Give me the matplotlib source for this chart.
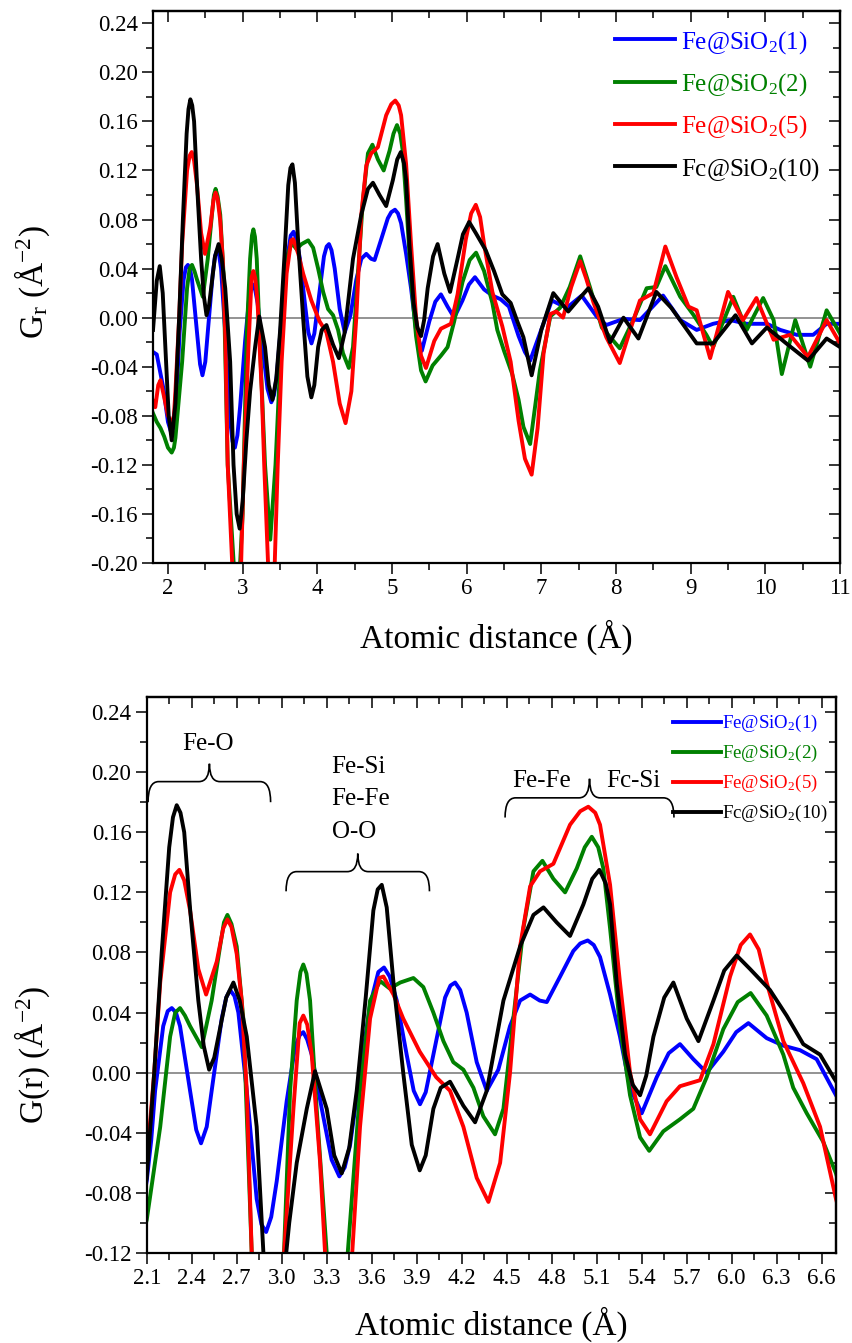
import matplotlib
matplotlib.use("Agg")
import matplotlib.pyplot as plt
from matplotlib.path import Path
from matplotlib.patches import PathPatch
from matplotlib.ticker import MultipleLocator, FuncFormatter, NullFormatter

plt.rcParams["font.family"] = ["Liberation Serif", "DejaVu Serif"]
plt.rcParams["mathtext.fontset"] = "custom"
plt.rcParams["mathtext.rm"] = "Liberation Serif"
plt.rcParams["mathtext.it"] = "Liberation Serif:italic"
plt.rcParams["mathtext.bf"] = "Liberation Serif:bold"

# ---- data ----
labels = ["Fe@SiO$_2$(1)", "Fe@SiO$_2$(2)", "Fe@SiO$_2$(5)", "Fc@SiO$_2$(10)"]
colors = ["#0000ff", "#008000", "#ff0000", "#000000"]

x_blue = [1.80, 1.85, 1.94, 2.00, 2.04, 2.07, 2.10, 2.13, 2.156, 2.21, 2.24, 2.267, 2.295, 2.322, 2.389,
          2.43, 2.462, 2.50, 2.533, 2.60, 2.63, 2.656, 2.685, 2.711, 2.767, 2.833, 2.865, 2.896, 2.93,
          2.967, 3.033, 3.089, 3.12, 3.144, 3.17, 3.20, 3.267, 3.333, 3.384, 3.42, 3.456, 3.522,
          3.589, 3.644, 3.682, 3.72, 3.767, 3.833, 3.88, 3.922, 3.96, 4.011, 4.089, 4.125, 4.156,
          4.19, 4.233, 4.30, 4.367, 4.444, 4.522, 4.589, 4.656, 4.72, 4.767, 4.856, 4.944, 4.99,
          5.04, 5.08, 5.122, 5.189, 5.255, 5.322, 5.40, 5.50, 5.58, 5.655, 5.744, 5.833, 5.944, 6.03,
          6.111, 6.233, 6.344, 6.455, 6.566, 6.695, 6.78, 6.85, 6.98, 7.14, 7.34, 7.54, 7.74, 7.87,
          8.10, 8.32, 8.63, 8.86, 9.08, 9.30, 9.53, 9.75, 10.02, 10.20, 10.42, 10.64, 10.82, 11.00]
y_blue = [-0.028, -0.030, -0.058, -0.085, -0.093, -0.090, -0.072, -0.045, -0.012, 0.031, 0.041, 0.043,
          0.040, 0.031, -0.012, -0.038, -0.047, -0.036, -0.012, 0.036, 0.050, 0.055, 0.051, 0.040,
          -0.012, -0.084, -0.101, -0.106, -0.096, -0.072, -0.019, 0.017, 0.025, 0.027, 0.022, 0.012,
          -0.024, -0.058, -0.069, -0.063, -0.048, 0.000, 0.045, 0.067, 0.070, 0.064, 0.048, 0.012,
          -0.012, -0.021, -0.013, 0.012, 0.050, 0.058, 0.060, 0.055, 0.040, 0.007, -0.012, 0.002,
          0.031, 0.048, 0.052, 0.048, 0.047, 0.064, 0.081, 0.086, 0.088, 0.085, 0.077, 0.052, 0.024,
          -0.010, -0.027, -0.003, 0.013, 0.019, 0.009, 0.000, 0.014, 0.027, 0.033, 0.023, 0.018,
          0.015, 0.009, -0.015, -0.028, -0.035, -0.013, 0.014, 0.008, 0.018, 0.001, -0.006, -0.001,
          -0.002, 0.018, -0.002, -0.010, -0.005, -0.002, -0.005, -0.005, -0.010, -0.014, -0.014,
          -0.005, -0.005]

x_green = [1.80, 1.85, 1.90, 1.95, 2.00, 2.05, 2.08, 2.10, 2.19, 2.256, 2.29, 2.322, 2.355, 2.389, 2.467,
           2.533, 2.589, 2.615, 2.638, 2.665, 2.70, 2.744, 2.80, 2.88, 2.95, 3.00, 3.056, 3.10, 3.125,
           3.144, 3.165, 3.189, 3.233, 3.30, 3.37, 3.44, 3.522, 3.589, 3.656, 3.72, 3.79, 3.878, 3.944,
           4.011, 4.078, 4.144, 4.211, 4.278, 4.344, 4.422, 4.478, 4.544, 4.611, 4.678, 4.738, 4.811,
           4.889, 4.967, 5.02, 5.067, 5.11, 5.144, 5.189, 5.255, 5.322, 5.389, 5.45, 5.544, 5.655,
           5.744, 5.833, 5.944, 6.04, 6.126, 6.233, 6.344, 6.41, 6.50, 6.61, 6.695, 6.76, 6.85, 6.98,
           7.12, 7.25, 7.38, 7.52, 7.65, 7.81, 8.05, 8.23, 8.41, 8.54, 8.66, 8.86, 9.04, 9.21, 9.30,
           9.39, 9.57, 9.75, 9.97, 10.11, 10.22, 10.40, 10.60, 10.82, 11.00]
y_green = [-0.078, -0.085, -0.090, -0.097, -0.106, -0.110, -0.106, -0.098, -0.036, 0.024, 0.040, 0.043,
           0.038, 0.031, 0.017, 0.048, 0.084, 0.100, 0.105, 0.099, 0.084, 0.036, -0.120, -0.200,
           -0.220, -0.160, -0.012, 0.048, 0.067, 0.072, 0.066, 0.048, -0.024, -0.120, -0.181, -0.120,
           -0.012, 0.048, 0.061, 0.056, 0.060, 0.063, 0.057, 0.040, 0.021, 0.007, 0.002, -0.010,
           -0.029, -0.041, -0.024, 0.036, 0.096, 0.134, 0.141, 0.129, 0.120, 0.136, 0.150, 0.157,
           0.150, 0.136, 0.096, 0.031, -0.015, -0.043, -0.052, -0.039, -0.031, -0.024, -0.003, 0.029,
           0.047, 0.053, 0.038, 0.012, -0.010, -0.027, -0.046, -0.067, -0.089, -0.103, -0.043, 0.001,
           0.008, 0.025, 0.050, 0.025, -0.008, -0.025, -0.002, 0.024, 0.025, 0.042, 0.017, 0.002,
           -0.014, -0.024, -0.010, 0.017, -0.010, 0.016, -0.002, -0.046, -0.002, -0.040, 0.006, -0.013]

x_red = [1.80, 1.83, 1.87, 1.90, 1.95, 2.00, 2.05, 2.08, 2.10, 2.15, 2.19, 2.256, 2.29, 2.318, 2.35,
         2.389, 2.444, 2.496, 2.567, 2.61, 2.638, 2.665, 2.70, 2.733, 2.767, 2.80, 2.86, 2.93, 2.98,
         3.016, 3.078, 3.12, 3.144, 3.17, 3.20, 3.256, 3.289, 3.34, 3.39, 3.43, 3.47, 3.522, 3.589,
         3.65, 3.678, 3.745, 3.81, 3.92, 4.03, 4.122, 4.211, 4.30, 4.378, 4.456, 4.522, 4.589, 4.656,
         4.722, 4.811, 4.922, 4.99, 5.044, 5.09, 5.122, 5.189, 5.255, 5.322, 5.389, 5.455, 5.566,
         5.655, 5.789, 5.878, 5.989, 6.06, 6.122, 6.18, 6.233, 6.344, 6.477, 6.589, 6.695, 6.78,
         6.87, 6.95, 7.03, 7.12, 7.20, 7.29, 7.40, 7.52, 7.60, 7.70, 7.87, 8.05, 8.19, 8.32, 8.50,
         8.66, 8.81, 8.97, 9.08, 9.26, 9.50, 9.70, 9.88, 10.11, 10.33, 10.57, 10.82, 11.00]
y_red = [-0.068, -0.073, -0.055, -0.051, -0.065, -0.080, -0.086, -0.080, -0.060, 0.000, 0.060, 0.120,
         0.132, 0.135, 0.128, 0.108, 0.069, 0.052, 0.074, 0.096, 0.102, 0.097, 0.079, 0.048, -0.012,
         -0.120, -0.200, -0.240, -0.200, -0.120, -0.024, 0.033, 0.038, 0.032, 0.012, -0.060, -0.120,
         -0.200, -0.235, -0.200, -0.120, -0.036, 0.036, 0.063, 0.064, 0.052, 0.036, 0.014, -0.003,
         -0.012, -0.036, -0.070, -0.086, -0.060, 0.000, 0.084, 0.124, 0.134, 0.139, 0.165, 0.174,
         0.177, 0.173, 0.165, 0.125, 0.060, 0.000, -0.031, -0.041, -0.019, -0.009, -0.005, 0.019,
         0.064, 0.085, 0.092, 0.082, 0.060, 0.021, -0.007, -0.036, -0.084, -0.115, -0.128, -0.090,
         -0.029, 0.003, 0.005, 0.000, 0.025, 0.046, 0.032, 0.012, -0.016, -0.037, -0.010, 0.014,
         0.020, 0.058, 0.033, 0.009, 0.006, -0.033, 0.021, -0.002, 0.016, -0.018, -0.014, -0.032,
         -0.002, -0.021]

x_black = [1.80, 1.85, 1.89, 1.93, 1.97, 2.01, 2.05, 2.10, 2.15, 2.20, 2.25, 2.275, 2.30, 2.325, 2.35,
           2.39, 2.444, 2.48, 2.516, 2.55, 2.58, 2.63, 2.678, 2.72, 2.767, 2.833, 2.878, 2.92, 2.96,
           3.00, 3.05, 3.10, 3.167, 3.222, 3.30, 3.35, 3.40, 3.45, 3.50, 3.56, 3.611, 3.64, 3.667,
           3.70, 3.745, 3.81, 3.867, 3.92, 3.96, 4.011, 4.06, 4.122, 4.211, 4.289, 4.367, 4.478,
           4.589, 4.678, 4.745, 4.833, 4.922, 5.011, 5.07, 5.118, 5.16, 5.189, 5.233, 5.289, 5.34,
           5.389, 5.43, 5.478, 5.55, 5.611, 5.70, 5.778, 5.878, 5.95, 6.033, 6.122, 6.255, 6.366,
           6.477, 6.589, 6.678, 6.76, 6.87, 7.00, 7.16, 7.36, 7.50, 7.63, 7.76, 7.92, 8.10, 8.30,
           8.54, 8.74, 9.08, 9.30, 9.60, 9.82, 10.02, 10.28, 10.57, 10.82, 11.00]
y_black = [-0.010, 0.030, 0.042, 0.020, -0.030, -0.080, -0.100, -0.070, 0.000, 0.080, 0.150, 0.170,
           0.178, 0.173, 0.160, 0.108, 0.048, 0.018, 0.002, 0.010, 0.025, 0.050, 0.060, 0.048, 0.024,
           -0.036, -0.120, -0.160, -0.172, -0.150, -0.100, -0.060, -0.024, 0.001, -0.024, -0.055,
           -0.067, -0.050, -0.012, 0.050, 0.108, 0.122, 0.125, 0.110, 0.060, 0.000, -0.048, -0.065,
           -0.055, -0.024, -0.010, -0.006, -0.022, -0.033, -0.012, 0.048, 0.084, 0.105, 0.110, 0.100,
           0.091, 0.112, 0.129, 0.135, 0.126, 0.112, 0.060, 0.012, -0.008, -0.015, -0.002, 0.024,
           0.050, 0.060, 0.036, 0.021, 0.048, 0.068, 0.078, 0.069, 0.055, 0.038, 0.019, 0.012, -0.003,
           -0.016, -0.047, -0.010, 0.020, 0.005, 0.015, 0.024, 0.009, -0.020, 0.000, -0.017, 0.021,
           0.008, -0.021, -0.021, 0.002, -0.021, -0.008, -0.021, -0.035, -0.017, -0.024]

series_x = [x_blue, x_green, x_red, x_black]
series_y = [y_blue, y_green, y_red, y_black]

fig = plt.figure(figsize=(8.52, 13.43), dpi=100)
ax1 = fig.add_axes([0.1796, 0.5808, 0.8064, 0.4110])
ax2 = fig.add_axes([0.1722, 0.0670, 0.8090, 0.4140])


def fmt2(v, pos):
    return f"{round(v, 2) + 0.0:.2f}"


def style(ax, xmaj, xmin, xfmt):
    ax.xaxis.set_major_locator(MultipleLocator(xmaj))
    ax.xaxis.set_minor_locator(MultipleLocator(xmin))
    ax.yaxis.set_major_locator(MultipleLocator(0.04))
    ax.yaxis.set_minor_locator(MultipleLocator(0.02))
    ax.xaxis.set_major_formatter(FuncFormatter(xfmt))
    ax.yaxis.set_major_formatter(FuncFormatter(fmt2))
    ax.tick_params(which="both", direction="out", width=1.1, labelsize=16.5, pad=3)
    ax.tick_params(which="major", length=8)
    ax.tick_params(which="minor", length=5)
    for s in ax.spines.values():
        s.set_linewidth(1.6)
    # inward ticks on top and right
    sx = ax.secondary_xaxis("top")
    sx.xaxis.set_major_locator(MultipleLocator(xmaj))
    sx.xaxis.set_minor_locator(MultipleLocator(xmin))
    sx.xaxis.set_major_formatter(NullFormatter())
    sx.tick_params(which="both", direction="in", width=1.1)
    sx.tick_params(which="major", length=8)
    sx.tick_params(which="minor", length=5)
    sx.spines["top"].set_linewidth(1.6)
    sy = ax.secondary_yaxis("right")
    sy.yaxis.set_major_locator(MultipleLocator(0.04))
    sy.yaxis.set_minor_locator(MultipleLocator(0.02))
    sy.yaxis.set_major_formatter(NullFormatter())
    sy.tick_params(which="both", direction="in", width=1.1)
    sy.tick_params(which="major", length=8)
    sy.tick_params(which="minor", length=5)
    sy.spines["right"].set_linewidth(1.6)


for ax in (ax1, ax2):
    ax.axhline(0, color="#808080", lw=1.2, zorder=1)
    for xs, ys, c, lab in zip(series_x, series_y, colors, labels):
        ax.plot(xs, ys, color=c, lw=2.8, label=lab, solid_joinstyle="round", zorder=2)

# top panel
ax1.set_xlim(1.8, 11)
ax1.set_ylim(-0.20, 0.25)
style(ax1, 1, 0.5, lambda v, p: f"{v:.0f}")
ax1.set_xlabel("Atomic distance (Å)", fontsize=24, va="center")
ax1.xaxis.set_label_coords(0.5, -0.134)
ax1.set_ylabel("G$_\\mathrm{r}$ (Å$^{-2}$)", fontsize=24, va="center")
ax1.yaxis.set_label_coords(-0.176, 0.509)
leg1 = ax1.legend(loc="upper left", bbox_to_anchor=(0.672, 0.968), frameon=False, fontsize=18,
                  handlelength=2.4, handletextpad=0.25, labelspacing=0.62, borderpad=0, borderaxespad=0)
for t, c in zip(leg1.get_texts(), colors):
    t.set_color(c)

# bottom panel
ax2.set_xlim(2.1, 6.695)
ax2.set_ylim(-0.12, 0.25)
style(ax2, 0.3, 0.15, lambda v, p: f"{v:.1f}")
ax2.set_xlabel("Atomic distance (Å)", fontsize=24, va="center")
ax2.xaxis.set_label_coords(0.5, -0.128)
ax2.set_ylabel("G(r) (Å$^{-2}$)", fontsize=24, va="center")
ax2.yaxis.set_label_coords(-0.166, 0.356)
leg2 = ax2.legend(loc="upper left", bbox_to_anchor=(0.764, 0.971), frameon=False, fontsize=13.6,
                  handlelength=2.5, handletextpad=0.1, labelspacing=0.47, borderpad=0, borderaxespad=0)
for t, c in zip(leg2.get_texts(), colors):
    t.set_color(c)


def brace(ax, x0, x1, y_end, y_bar, x_tip, y_tip, r):
    verts = [(x0, y_end), (x0, y_bar), (x0 + r, y_bar), (x_tip - r, y_bar),
             (x_tip, y_bar), (x_tip, y_tip), (x_tip, y_bar), (x_tip + r, y_bar),
             (x1 - r, y_bar), (x1, y_bar), (x1, y_end)]
    codes = [Path.MOVETO, Path.CURVE3, Path.CURVE3, Path.LINETO, Path.CURVE3, Path.CURVE3,
             Path.CURVE3, Path.CURVE3, Path.LINETO, Path.CURVE3, Path.CURVE3]
    ax.add_patch(PathPatch(Path(verts, codes), fill=False, lw=1.2, color="black",
                           clip_on=False, zorder=3))


brace(ax2, 2.109, 2.926, 0.180, 0.1937, 2.518, 0.2056, 0.07)
brace(ax2, 3.029, 3.985, 0.1207, 0.1338, 3.507, 0.1458, 0.07)
brace(ax2, 4.489, 5.615, 0.1698, 0.1829, 5.052, 0.1956, 0.07)

ax2.text(2.51, 0.2189, "Fe-O", fontsize=18, ha="center", va="center")
for yy, s in zip([0.2033, 0.1820, 0.1600], ["Fe-Si", "Fe-Fe", "O-O"]):
    ax2.text(3.333, yy, s, fontsize=18, ha="left", va="center")
ax2.text(4.735, 0.1944, "Fe-Fe", fontsize=18, ha="center", va="center")
ax2.text(5.342, 0.1944, "Fc-Si", fontsize=18, ha="center", va="center")

fig.savefig("out.png", dpi=100)
